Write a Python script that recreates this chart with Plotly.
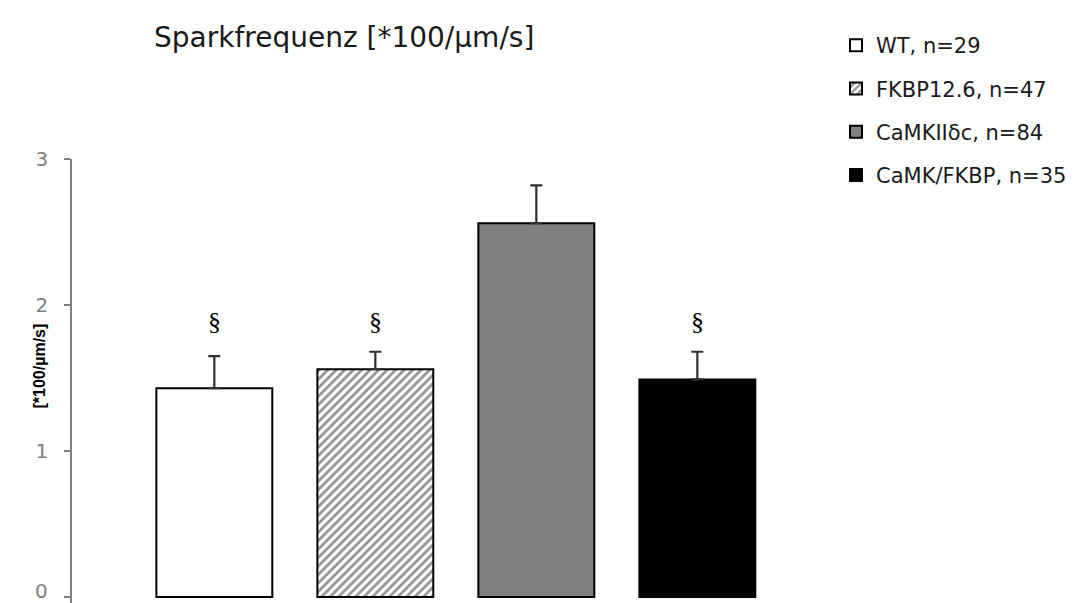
import plotly.graph_objects as go

# Spark frequency per group (mean ± SEM), in *100/µm/s
groups = ["WT, n=29", "FKBP12.6, n=47", "CaMKIIδc, n=84", "CaMK/FKBP, n=35"]
means = [1.43, 1.56, 2.56, 1.49]
sem = [0.22, 0.12, 0.26, 0.19]
significance = ["§", "§", "", "§"]
y_ticks = [0, 1, 2, 3]

fills = ["white", "white", "#808080", "black"]
patterns = [None, "/", None, None]

SIG_Y = 1.89
W, H = 1081, 603
TICK_FONT = dict(family="DejaVu Sans", size=20, color="#808080")

fig = go.Figure()
for i, name in enumerate(groups):
    marker = dict(color=fills[i], line=dict(color="black", width=2))
    if patterns[i]:
        marker["pattern"] = dict(shape=patterns[i], fgcolor="#262626", bgcolor="white",
                                 size=6, solidity=0.45)
    fig.add_trace(go.Bar(
        x=[i], y=[means[i]], name=name, width=0.72,
        marker=marker, legendgroup=name,
        error_y=dict(type="data", array=[sem[i]], arrayminus=[0], symmetric=False,
                     color="#303030", thickness=2.2, width=6),
    ))
    if significance[i]:
        fig.add_annotation(x=i, y=SIG_Y, text=significance[i], showarrow=False,
                           font=dict(family="Liberation Serif", size=26, color="black"))

# the bottom tick label sits on the page edge, so it is drawn separately and lifted a little
fig.add_annotation(x=(50 - 72) / 706, xref="paper", xanchor="right", y=y_ticks[0], yref="y",
                   yanchor="bottom", yshift=-8, text=str(y_ticks[0]), showarrow=False,
                   font=TICK_FONT)

fig.add_annotation(
    text="[*100/µm/s]", textangle=-90, showarrow=False,
    xref="paper", yref="paper", x=(28 - 72) / 706, y=(603 - 366) / 444,
    font=dict(family="Liberation Sans", size=16, color="black", weight="bold"),
)

fig.update_layout(
    width=W, height=H,
    margin=dict(l=72, r=303, t=159, b=0),
    paper_bgcolor="white", plot_bgcolor="white",
    barmode="overlay",
    title=dict(text="Sparkfrequenz [*100/µm/s]", xref="container", yref="container",
               x=154 / W, xanchor="left", y=1 - 37 / H, yanchor="middle",
               font=dict(family="DejaVu Sans", size=28, color="#1a1a1a")),
    legend=dict(xref="container", yref="container", x=836 / W, xanchor="left",
                y=1 - 25 / H, yanchor="top", tracegroupgap=13,
                font=dict(family="DejaVu Sans", size=21, color="#1a1a1a"),
                bgcolor="rgba(0,0,0,0)", itemwidth=30),
    showlegend=True,
)
fig.update_xaxes(visible=False, range=[-0.884, 3.501])
fig.update_yaxes(range=[-0.041, 3], tickvals=y_ticks, ticktext=["", "1", "2", "3"],
                 ticks="outside", ticklen=6,
                 tickcolor="#808080", tickwidth=1.5, showline=True, linecolor="#808080",
                 linewidth=1.5, showgrid=False, zeroline=False, ticklabelstandoff=12,
                 tickfont=TICK_FONT)

fig.write_html("out.html")
